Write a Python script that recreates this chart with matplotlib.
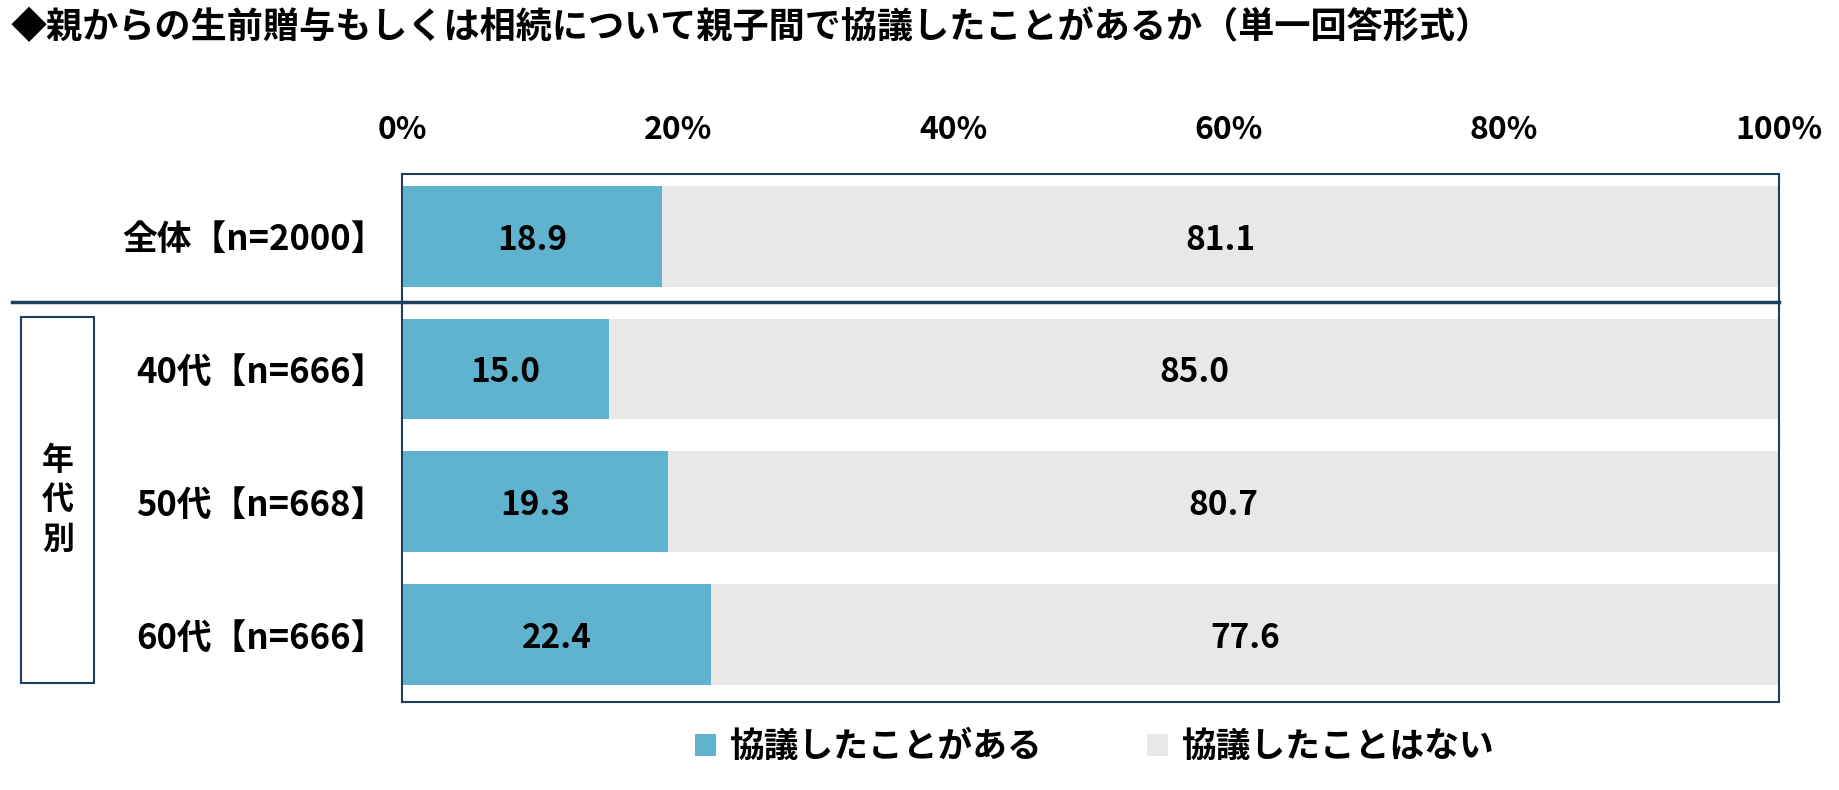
import matplotlib.pyplot as plt
import matplotlib.patches as patches

plt.rcParams["font.family"] = "Noto Sans CJK JP"

categories = ["全体【n=2000】", "40代【n=666】", "50代【n=668】", "60代【n=666】"]
agreed = [18.9, 15.0, 19.3, 22.4]
not_agreed = [81.1, 85.0, 80.7, 77.6]
series_names = ["協議したことがある", "協議したことはない"]
ticks = [0, 20, 40, 60, 80, 100]

BLUE = "#5FB3CE"
GRAY = "#E8E8E6"
NAVY = "#1F3D5C"

fig = plt.figure(figsize=(18.4, 7.9), dpi=100)
ax = fig.add_axes([0.2186, 0.111, 0.7484, 0.669])

ypos = list(range(len(categories)))
ax.barh(ypos, agreed, height=0.76, color=BLUE, label=series_names[0])
ax.barh(ypos, not_agreed, left=agreed, height=0.76, color=GRAY, label=series_names[1])

for y, a, b in zip(ypos, agreed, not_agreed):
    ax.text(a / 2, y + 0.03, f"{a:.1f}", ha="center", va="center", fontsize=24, fontweight="bold")
    ax.text(a + b / 2, y + 0.03, f"{b:.1f}", ha="center", va="center", fontsize=24, fontweight="bold")

ax.set_xlim(0, 100)
ax.set_ylim(3.51, -0.47)
ax.xaxis.tick_top()
ax.set_xticks(ticks)
ax.set_xticklabels([f"{t}%" for t in ticks], fontsize=23, fontweight="bold")
ax.tick_params(axis="x", length=0, pad=20)
ax.set_yticks(ypos)
ax.set_yticklabels(categories, fontsize=25, fontweight="bold")
ax.tick_params(axis="y", length=0, pad=12)
for s in ax.spines.values():
    s.set_color(NAVY)
    s.set_linewidth(1.5)

# separator between total and age groups
fig.add_artist(plt.Line2D([0.0065, 0.967], [1 - 257 / 673, 1 - 257 / 673],
                          color=NAVY, lw=2.5))
# 年代別 box
fig.add_artist(patches.Rectangle((18 / 1560, 1 - 582 / 673), 62 / 1560, 312 / 673,
                                 fill=False, edgecolor=NAVY, lw=1.5))
fig.text(49 / 1560, 1 - 426 / 673, "年\n代\n別", ha="center", va="center",
         fontsize=23, fontweight="bold", linespacing=1.3)

fig.text(0.006, 0.965, "◆親からの生前贈与もしくは相続について親子間で協議したことがあるか（単一回答形式）",
         ha="left", va="center", fontsize=26, fontweight="bold")

fig.legend(loc="center", bbox_to_anchor=(0.595, 0.055), ncol=2, frameon=False,
           prop={"size": 25, "weight": "bold"}, handlelength=0.6, handleheight=0.6,
           columnspacing=3, handletextpad=0.4)

fig.savefig("out.png", dpi=100)
